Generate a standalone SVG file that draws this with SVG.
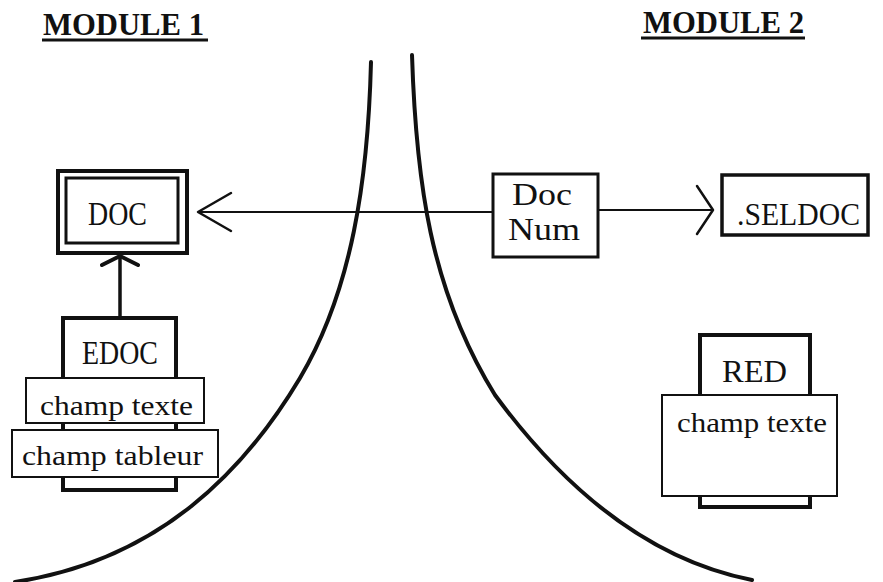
<svg xmlns="http://www.w3.org/2000/svg" width="883" height="582" viewBox="0 0 883 582">
<style>
text{font-family:"Liberation Serif","Times New Roman",serif;fill:#111}
.h{font-size:31px;font-weight:bold}
.cap{font-size:31px}
.big{font-size:33px}
.lbl{font-size:27px}
.box{fill:#fff;stroke:#111}
.ln{fill:none;stroke:#111;stroke-linecap:round;stroke-linejoin:round}
</style>
<rect width="883" height="582" fill="#fff"/>
<g id="titles">
<text class="h" x="43" y="35" textLength="161" lengthAdjust="spacingAndGlyphs">MODULE  1</text>
<line x1="42" y1="40" x2="208" y2="40" stroke="#111" stroke-width="3"/>
<text class="h" x="643" y="33" textLength="161" lengthAdjust="spacingAndGlyphs">MODULE  2</text>
<line x1="641" y1="38" x2="805" y2="38" stroke="#111" stroke-width="3"/>
</g>
<g id="curves">
<path class="ln" stroke-width="4" d="M371,62 C368,180 352,290 300,378 C245,470 160,560 15,582"/>
<path class="ln" stroke-width="4" d="M412,55 C416,180 430,290 495,395 C565,490 650,560 752,580"/>
</g>
<g id="connectors">
<line class="ln" x1="199" y1="212" x2="493" y2="212" stroke-width="2"/>
<polyline class="ln" points="231,193 198,212 231,231" stroke-width="2.5"/>
<line class="ln" x1="598" y1="210" x2="712" y2="210" stroke-width="2"/>
<polyline class="ln" points="697,186 713,210 697,234" stroke-width="2.5"/>
<line class="ln" x1="120" y1="320" x2="120" y2="257" stroke-width="3.5"/>
<polyline class="ln" points="102,265 120,256 138,265" stroke-width="4"/>
</g>
<g id="doc">
<rect class="box" x="58" y="171" width="129" height="82" stroke-width="4"/>
<rect class="box" x="66" y="178" width="112" height="65" stroke-width="3"/>
<text class="big" x="88" y="225" textLength="59" lengthAdjust="spacingAndGlyphs">DOC</text>
</g>
<g id="docnum">
<rect class="box" x="493" y="174" width="105" height="83" stroke-width="3"/>
<text class="cap" x="512" y="205" textLength="60" lengthAdjust="spacingAndGlyphs">Doc</text>
<text class="cap" x="508" y="240" textLength="72" lengthAdjust="spacingAndGlyphs">Num</text>
</g>
<g id="seldoc">
<rect class="box" x="722" y="175" width="146" height="60" stroke-width="3.5"/>
<text class="cap" x="737" y="225" textLength="123" lengthAdjust="spacingAndGlyphs">.SELDOC</text>
</g>
<g id="edoc">
<rect class="box" x="63" y="318" width="113" height="172" stroke-width="4"/>
<text class="big" x="82" y="364" textLength="76" lengthAdjust="spacingAndGlyphs">EDOC</text>
<rect class="box" x="26" y="378" width="178" height="45" stroke-width="2"/>
<text class="lbl" x="40" y="415" textLength="153" lengthAdjust="spacingAndGlyphs">champ texte</text>
<rect class="box" x="12" y="430" width="206" height="47" stroke-width="2"/>
<text class="lbl" x="22" y="465" textLength="181" lengthAdjust="spacingAndGlyphs">champ tableur</text>
</g>
<g id="red">
<rect class="box" x="700" y="335" width="110" height="172" stroke-width="4"/>
<text class="cap" x="722" y="382" textLength="65" lengthAdjust="spacingAndGlyphs">RED</text>
<rect class="box" x="662" y="395" width="175" height="101" stroke-width="2"/>
<text class="lbl" x="677" y="432" textLength="150" lengthAdjust="spacingAndGlyphs">champ texte</text>
</g>
</svg>
